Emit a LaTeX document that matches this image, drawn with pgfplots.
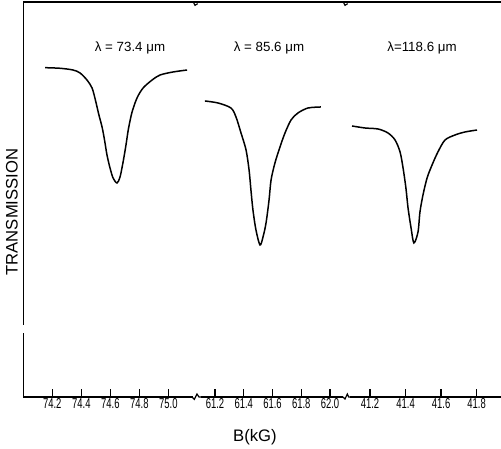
\documentclass[border=0pt]{standalone}
\usepackage{fontspec}
\setmainfont{Liberation Sans}
\newfontfamily\tickfont{Liberation Sans}[FakeStretch=0.66]
\usepackage{pgfplots}
\pgfplotsset{compat=1.18}

% one broken-axis segment; all segments share the same y range
\pgfplotsset{seg/.style={
  scale only axis, height=237pt, ymin=0, ymax=100,
  axis x line=bottom, axis y line=none,
  axis line style={-, line width=0.8pt},
  tick align=inside, major tick length=4.8pt,
  every tick/.style={line width=0.8pt, black},
  ytick=\empty,
  xticklabel style={font=\tickfont\fontsize{8.6}{10}\selectfont, inner sep=1pt},
  anchor=south west, clip=false,
}}
\tikzset{trace/.style={black, line width=0.9pt, smooth, no markers}}

\begin{document}
\begin{tikzpicture}
\useasboundingbox (0,0) rectangle (300.6pt,269.4pt);

% lambda = 73.4 um
\begin{axis}[seg, at={(13.98pt,31.2pt)}, width=101.82pt,
  xmin=74.0, xmax=75.17,
  xtick={74.2,74.4,74.6,74.8,75.0}, xticklabels={74.2,74.4,74.6,74.8,75.0}]
\addplot[trace] coordinates {
(74.150,83.37) (74.253,83.22) (74.343,82.78) (74.391,82.03) (74.439,80.25)
(74.474,78.23) (74.497,75.20) (74.520,71.60) (74.543,68.36) (74.560,65.07)
(74.577,61.27) (74.598,57.97) (74.619,55.44) (74.646,54.18) (74.667,55.70)
(74.688,59.49) (74.708,63.80) (74.725,67.90) (74.750,72.15) (74.784,75.70)
(74.826,78.23) (74.888,80.25) (74.943,81.52) (75.032,82.28) (75.129,82.78)};
\end{axis}

% lambda = 85.6 um
\begin{axis}[seg, at={(120.6pt,31.2pt)}, width=85.2pt,
  xmin=61.1026, xmax=62.0904,
  xtick={61.2,61.4,61.6,61.8,62.0}, xticklabels={61.2,61.4,61.6,61.8,62.0}]
\addplot[trace] coordinates {
(61.130,74.94) (61.221,74.43) (61.311,73.16) (61.346,70.89) (61.381,66.84)
(61.416,62.53) (61.437,57.47) (61.450,52.41) (61.464,47.34) (61.485,42.28)
(61.513,38.48) (61.534,40.51) (61.555,44.05) (61.576,49.87) (61.590,54.94)
(61.617,59.24) (61.652,63.29) (61.687,66.84) (61.729,70.13) (61.777,71.90)
(61.847,73.16) (61.937,73.42)};
\end{axis}

% lambda = 118.6 um
\begin{axis}[seg, at={(210pt,31.2pt)}, width=90.6pt,
  xmin=41.0875, xmax=41.9368,
  xtick={41.2,41.4,41.6,41.8}, xticklabels={41.2,41.4,41.6,41.8}]
\addplot[trace] coordinates {
(41.099,68.61) (41.172,68.10) (41.245,67.85) (41.301,66.84) (41.341,65.06)
(41.369,62.03) (41.386,57.97) (41.402,52.91) (41.414,47.85) (41.431,42.78)
(41.447,38.99) (41.470,41.77) (41.481,46.84) (41.498,51.14) (41.521,55.44)
(41.549,58.73) (41.582,62.03) (41.622,65.06) (41.678,66.33) (41.734,67.09)
(41.802,67.59)};
\end{axis}

% frame: broken left axis, top line and break marks
\draw[line width=0.8pt] (13.98pt,31.2pt) -- (13.98pt,69.6pt);
\draw[line width=0.8pt] (13.98pt,74.4pt) -- (13.98pt,268.2pt);
\draw[line width=0.8pt] (13.98pt,268.2pt) -- (300.6pt,268.2pt);
\draw[line width=0.7pt] (116pt,268.2pt) -- (117pt,266.2pt) -- (118.6pt,267.2pt);
\draw[line width=0.7pt] (206pt,268.2pt) -- (207pt,266.2pt) -- (208.6pt,267.2pt);
\draw[line width=0.7pt] (115.2pt,31.2pt) -- (116.6pt,29.8pt) -- (118.2pt,33pt) -- (119.4pt,31.2pt) -- (120.6pt,31.2pt);
\draw[line width=0.7pt] (205.8pt,31.2pt) -- (207pt,30pt) -- (208.4pt,33pt) -- (209.2pt,31.2pt) -- (210pt,31.2pt);

% labels
\node[font=\fontsize{10}{12}\selectfont, rotate=90] at (7.2pt,142.2pt) {TRANSMISSION};
\node[font=\fontsize{10}{12}\selectfont] at (153pt,7.2pt) {B(kG)};
\node[font=\fontsize{8}{10}\selectfont] at (78pt,240.6pt) {λ = 73.4 μm};
\node[font=\fontsize{8}{10}\selectfont] at (161.4pt,240.6pt) {λ = 85.6 μm};
\node[font=\fontsize{8}{10}\selectfont] at (253.2pt,240.6pt) {λ=118.6 μm};
\end{tikzpicture}
\end{document}
